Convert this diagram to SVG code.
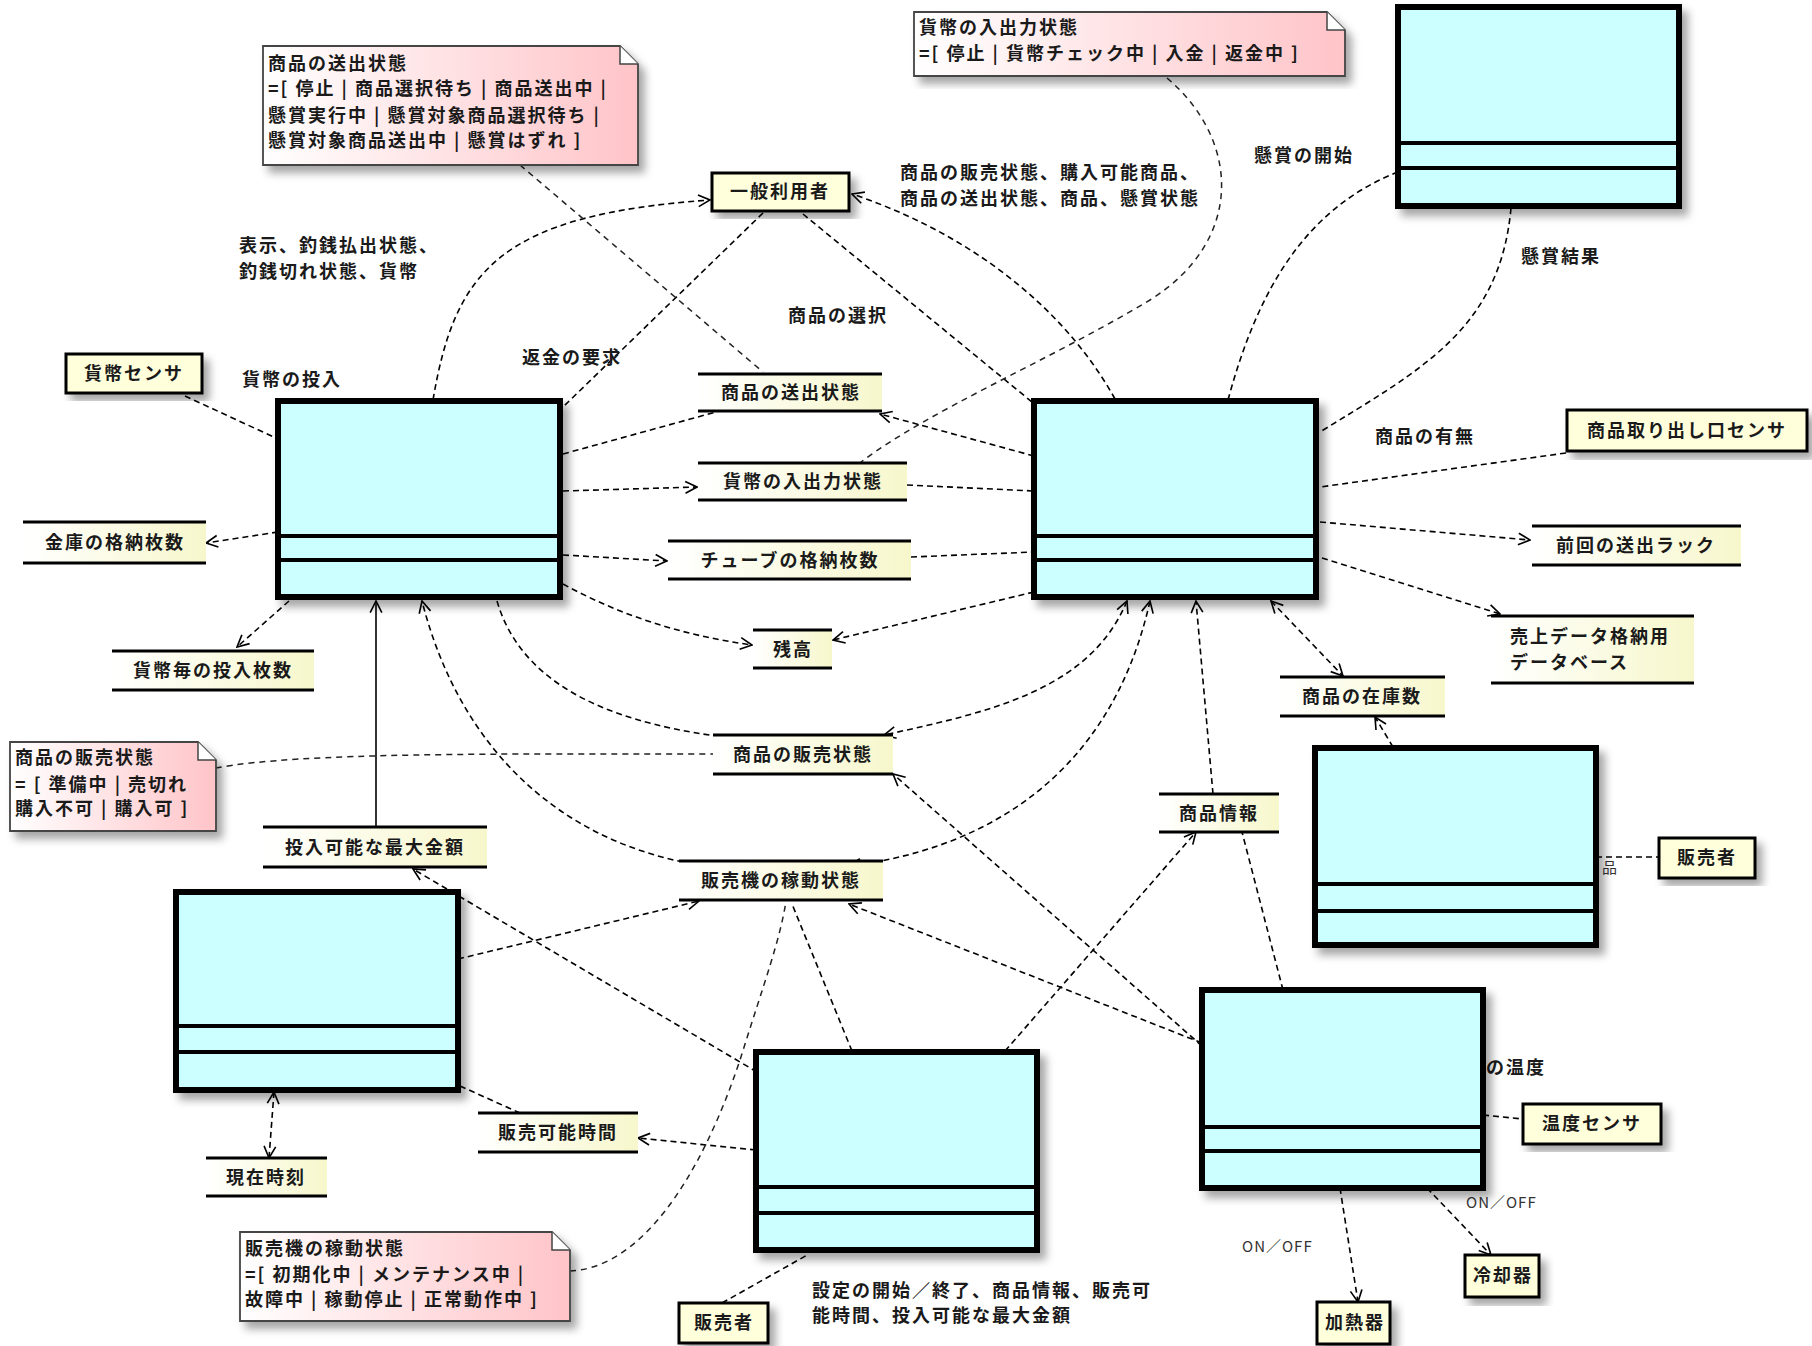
<svg xmlns="http://www.w3.org/2000/svg" width="1812" height="1346" viewBox="0 0 1812 1346">
<defs>
<style>
text{font-family:"Noto Sans CJK JP","Noto Sans",sans-serif;font-size:18px;font-weight:bold;fill:#1a1a1a;letter-spacing:2px}
.cls{fill:#ccffff;stroke:#000;stroke-width:6}
.cl{stroke:#000;stroke-width:4}
.act{fill:#ffffdc;stroke:#000;stroke-width:3}
.ds{fill:url(#gy)}
.dl{stroke:#000;stroke-width:3}
.note{fill:url(#gp);stroke:#444;stroke-width:1.8}
.fold{fill:#fff;stroke:#444;stroke-width:1.5}
.c{fill:none;stroke:#000;stroke-width:1.6;stroke-dasharray:6 4}
.s{fill:none;stroke:#000;stroke-width:1.6}
.na{fill:none;stroke:#222;stroke-width:1.5;stroke-dasharray:6 5}
.ae{marker-end:url(#ah)}
.as{marker-start:url(#ah)}
.m{text-anchor:middle}
.sm{font-size:15px;font-weight:normal;letter-spacing:1px;fill:#333}
</style>
<linearGradient id="gy" x1="0" y1="0" x2="1" y2="0"><stop offset="0" stop-color="#ffffff"/><stop offset="1" stop-color="#f7f7cc"/></linearGradient>
<linearGradient id="gp" x1="0" y1="0" x2="1" y2="0"><stop offset="0" stop-color="#ffffff"/><stop offset="1" stop-color="#ffc4c8"/></linearGradient>
<filter id="sh" x="-10%" y="-10%" width="130%" height="130%"><feDropShadow dx="6" dy="7" stdDeviation="4" flood-color="#000" flood-opacity="0.35"/></filter>
<marker id="ah" viewBox="0 0 12 12" refX="11" refY="6" markerWidth="14" markerHeight="14" markerUnits="userSpaceOnUse" orient="auto-start-reverse"><path d="M1,1 L11,6 L1,11" fill="none" stroke="#000" stroke-width="1.4"/></marker>
</defs>
<rect width="1812" height="1346" fill="#fff"/>

<g id="connectors">
<path class="c ae" d="M433,400 C455,270 500,215 710,200"/>
<path class="c" d="M763,213 L563,407"/>
<path class="c" d="M803,214 L1032,402"/>
<path class="c ae" d="M1115,399 C1060,300 960,230 852,194"/>
<path class="na" d="M520,165 L763,372"/>
<path class="na" d="M1167,78 C1240,140 1245,240 1150,300 C1050,360 930,410 861,462"/>
<path class="na" d="M216,768 C300,752 500,754 713,754"/>
<path class="na" d="M570,1271 C640,1268 700,1180 740,1060 C765,980 780,940 786,901"/>
<path class="c" d="M185,396 L278,439"/>
<path class="c ae" d="M278,532 L206,543"/>
<path class="c ae" d="M289,601 L237,647"/>
<path class="c" d="M563,454 L716,412"/>
<path class="c ae" d="M1034,456 L880,414"/>
<path class="c ae" d="M563,491 L697,487"/>
<path class="c" d="M907,485 L1034,491"/>
<path class="c ae" d="M563,555 L667,561"/>
<path class="c" d="M911,557 L1034,552"/>
<path class="c ae" d="M563,584 C620,615 680,635 752,645"/>
<path class="c ae" d="M1034,592 L833,640"/>
<path class="c" d="M497,601 C520,680 600,720 716,736"/>
<path class="c ae as" d="M1127,601 C1090,690 990,712 884,735"/>
<path class="c ae" d="M693,864 C560,840 460,750 422,601"/>
<path class="c ae as" d="M1150,601 C1110,780 980,850 849,866"/>
<path class="s ae" d="M376,827 L376,601"/>
<path class="c ae" d="M458,959 L699,901"/>
<path class="c ae" d="M757,1072 L413,869"/>
<path class="c ae" d="M1202,1046 L893,774"/>
<path class="c ae" d="M1202,1043 L849,904"/>
<path class="c" d="M852,1051 L792,904"/>
<path class="c ae" d="M1005,1051 L1196,832"/>
<path class="c ae" d="M1213,794 L1196,601"/>
<path class="c" d="M1283,990 L1242,832"/>
<path class="c ae as" d="M1271,601 L1343,676"/>
<path class="c ae" d="M1393,747 L1375,717"/>
<path class="c" d="M1596,857 L1659,857"/>
<path class="c ae" d="M1320,522 L1530,540"/>
<path class="c" d="M1566,453 L1320,487"/>
<path class="c ae" d="M1322,558 L1500,614"/>
<path class="c" d="M1228,400 C1255,300 1300,210 1398,172"/>
<path class="c" d="M1511,208 C1500,330 1420,370 1320,432"/>
<path class="c" d="M1483,1115 L1523,1119"/>
<path class="c ae" d="M1340,1188 L1358,1302"/>
<path class="c ae" d="M1427,1188 L1491,1255"/>
<path class="c ae as" d="M274,1092 L269,1158"/>
<path class="c" d="M460,1086 L520,1113"/>
<path class="c ae" d="M756,1150 L638,1138"/>
<path class="c" d="M722,1303 L809,1254"/>
</g>

<g id="labels">
<text x="900" y="179">商品の販売状態、購入可能商品、</text>
<text x="900" y="205">商品の送出状態、商品、懸賞状態</text>
<text x="239" y="252">表示、釣銭払出状態、</text>
<text x="239" y="278">釣銭切れ状態、貨幣</text>
<text x="1254" y="162">懸賞の開始</text>
<text x="1521" y="263">懸賞結果</text>
<text x="788" y="322">商品の選択</text>
<text x="522" y="364">返金の要求</text>
<text x="242" y="386">貨幣の投入</text>
<text x="1375" y="443">商品の有無</text>
<text x="1602" y="873" class="sm">品</text>
<text x="1486" y="1074">の温度</text>
<text x="1466" y="1208" class="sm">ON／OFF</text>
<text x="1242" y="1252" class="sm">ON／OFF</text>
<text x="812" y="1297">設定の開始／終了、商品情報、販売可</text>
<text x="812" y="1322">能時間、投入可能な最大金額</text>
</g>

<g id="classA" filter="url(#sh)"><rect class="cls" x="1398" y="7" width="281" height="199"/><line class="cl" x1="1398" y1="143" x2="1679" y2="143"/><line class="cl" x1="1398" y1="168" x2="1679" y2="168"/></g>
<g id="classB" filter="url(#sh)"><rect class="cls" x="278" y="401" width="282" height="196"/><line class="cl" x1="278" y1="536" x2="560" y2="536"/><line class="cl" x1="278" y1="560" x2="560" y2="560"/></g>
<g id="classC" filter="url(#sh)"><rect class="cls" x="1034" y="401" width="282" height="196"/><line class="cl" x1="1034" y1="536" x2="1316" y2="536"/><line class="cl" x1="1034" y1="560" x2="1316" y2="560"/></g>
<g id="classD" filter="url(#sh)"><rect class="cls" x="1315" y="748" width="281" height="197"/><line class="cl" x1="1315" y1="884" x2="1596" y2="884"/><line class="cl" x1="1315" y1="911" x2="1596" y2="911"/></g>
<g id="classE" filter="url(#sh)"><rect class="cls" x="176" y="892" width="282" height="198"/><line class="cl" x1="176" y1="1026" x2="458" y2="1026"/><line class="cl" x1="176" y1="1052" x2="458" y2="1052"/></g>
<g id="classF" filter="url(#sh)"><rect class="cls" x="756" y="1052" width="281" height="198"/><line class="cl" x1="756" y1="1187" x2="1037" y2="1187"/><line class="cl" x1="756" y1="1213" x2="1037" y2="1213"/></g>
<g id="classG" filter="url(#sh)"><rect class="cls" x="1202" y="990" width="281" height="198"/><line class="cl" x1="1202" y1="1127" x2="1483" y2="1127"/><line class="cl" x1="1202" y1="1151" x2="1483" y2="1151"/></g>

<g id="ippanriyousha"><rect class="act" x="712" y="173" width="137" height="38" filter="url(#sh)"/><text class="m" x="780" y="198">一般利用者</text></g>
<g id="kaheisensa"><rect class="act" x="66" y="354" width="136" height="39" filter="url(#sh)"/><text class="m" x="134" y="380">貨幣センサ</text></g>
<g id="toridashisensa"><rect class="act" x="1567" y="410" width="240" height="41" filter="url(#sh)"/><text class="m" x="1687" y="437">商品取り出し口センサ</text></g>
<g id="hanbaisha1"><rect class="act" x="1659" y="838" width="96" height="40" filter="url(#sh)"/><text class="m" x="1707" y="864">販売者</text></g>
<g id="ondosensa"><rect class="act" x="1523" y="1104" width="138" height="40" filter="url(#sh)"/><text class="m" x="1592" y="1130">温度センサ</text></g>
<g id="reikyakuki"><rect class="act" x="1465" y="1255" width="74" height="42" filter="url(#sh)"/><text class="m" x="1503" y="1282">冷却器</text></g>
<g id="kanetsuki"><rect class="act" x="1317" y="1302" width="73" height="42" filter="url(#sh)"/><text class="m" x="1355" y="1329">加熱器</text></g>
<g id="hanbaisha2"><rect class="act" x="679" y="1303" width="89" height="40" filter="url(#sh)"/><text class="m" x="724" y="1329">販売者</text></g>

<g id="ds1"><rect class="ds" x="698" y="374" width="184" height="37"/><line class="dl" x1="698" y1="374" x2="882" y2="374"/><line class="dl" x1="698" y1="411" x2="882" y2="411"/><text class="m" x="791" y="399">商品の送出状態</text></g>
<g id="ds2"><rect class="ds" x="698" y="463" width="209" height="37"/><line class="dl" x1="698" y1="463" x2="907" y2="463"/><line class="dl" x1="698" y1="500" x2="907" y2="500"/><text class="m" x="803" y="488">貨幣の入出力状態</text></g>
<g id="ds3"><rect class="ds" x="668" y="541" width="243" height="38"/><line class="dl" x1="668" y1="541" x2="911" y2="541"/><line class="dl" x1="668" y1="579" x2="911" y2="579"/><text class="m" x="790" y="567">チューブの格納枚数</text></g>
<g id="ds4"><rect class="ds" x="753" y="630" width="79" height="38"/><line class="dl" x1="753" y1="630" x2="832" y2="630"/><line class="dl" x1="753" y1="668" x2="832" y2="668"/><text class="m" x="793" y="656">残高</text></g>
<g id="ds5"><rect class="ds" x="23" y="522" width="183" height="41"/><line class="dl" x1="23" y1="522" x2="206" y2="522"/><line class="dl" x1="23" y1="563" x2="206" y2="563"/><text class="m" x="115" y="549">金庫の格納枚数</text></g>
<g id="ds6"><rect class="ds" x="112" y="651" width="202" height="39"/><line class="dl" x1="112" y1="651" x2="314" y2="651"/><line class="dl" x1="112" y1="690" x2="314" y2="690"/><text class="m" x="213" y="677">貨幣毎の投入枚数</text></g>
<g id="ds7"><rect class="ds" x="713" y="735" width="180" height="39"/><line class="dl" x1="713" y1="735" x2="893" y2="735"/><line class="dl" x1="713" y1="774" x2="893" y2="774"/><text class="m" x="803" y="761">商品の販売状態</text></g>
<g id="ds8"><rect class="ds" x="263" y="827" width="224" height="40"/><line class="dl" x1="263" y1="827" x2="487" y2="827"/><line class="dl" x1="263" y1="867" x2="487" y2="867"/><text class="m" x="375" y="854">投入可能な最大金額</text></g>
<g id="ds9"><rect class="ds" x="679" y="861" width="204" height="39"/><line class="dl" x1="679" y1="861" x2="883" y2="861"/><line class="dl" x1="679" y1="900" x2="883" y2="900"/><text class="m" x="781" y="887">販売機の稼動状態</text></g>
<g id="ds10"><rect class="ds" x="1159" y="794" width="120" height="38"/><line class="dl" x1="1159" y1="794" x2="1279" y2="794"/><line class="dl" x1="1159" y1="832" x2="1279" y2="832"/><text class="m" x="1219" y="820">商品情報</text></g>
<g id="ds11"><rect class="ds" x="1532" y="526" width="209" height="39"/><line class="dl" x1="1532" y1="526" x2="1741" y2="526"/><line class="dl" x1="1532" y1="565" x2="1741" y2="565"/><text class="m" x="1636" y="552">前回の送出ラック</text></g>
<g id="ds12"><rect class="ds" x="1491" y="616" width="203" height="67"/><line class="dl" x1="1491" y1="616" x2="1694" y2="616"/><line class="dl" x1="1491" y1="683" x2="1694" y2="683"/><text x="1510" y="643">売上データ格納用</text><text x="1510" y="669">データベース</text></g>
<g id="ds13"><rect class="ds" x="1280" y="677" width="165" height="39"/><line class="dl" x1="1280" y1="677" x2="1445" y2="677"/><line class="dl" x1="1280" y1="716" x2="1445" y2="716"/><text class="m" x="1362" y="703">商品の在庫数</text></g>
<g id="ds14"><rect class="ds" x="478" y="1113" width="160" height="39"/><line class="dl" x1="478" y1="1113" x2="638" y2="1113"/><line class="dl" x1="478" y1="1152" x2="638" y2="1152"/><text class="m" x="558" y="1139">販売可能時間</text></g>
<g id="ds15"><rect class="ds" x="206" y="1158" width="121" height="38"/><line class="dl" x1="206" y1="1158" x2="327" y2="1158"/><line class="dl" x1="206" y1="1196" x2="327" y2="1196"/><text class="m" x="266" y="1184">現在時刻</text></g>

<g id="note1"><path class="note" d="M263,46 H620 L638,64 V165 H263 Z" filter="url(#sh)"/><path class="fold" d="M620,46 V64 H638"/>
<text x="268" y="70">商品の送出状態</text><text x="268" y="95">=[ 停止 | 商品選択待ち | 商品送出中 |</text><text x="268" y="122">懸賞実行中 | 懸賞対象商品選択待ち |</text><text x="268" y="147">懸賞対象商品送出中 | 懸賞はずれ ]</text></g>
<g id="note2"><path class="note" d="M914,12 H1327 L1345,30 V76 H914 Z" filter="url(#sh)"/><path class="fold" d="M1327,12 V30 H1345"/>
<text x="919" y="34">貨幣の入出力状態</text><text x="919" y="60">=[ 停止 | 貨幣チェック中 | 入金 | 返金中 ]</text></g>
<g id="note3"><path class="note" d="M10,742 H198 L216,760 V831 H10 Z" filter="url(#sh)"/><path class="fold" d="M198,742 V760 H216"/>
<text x="15" y="764">商品の販売状態</text><text x="15" y="791">= [ 準備中 | 売切れ</text><text x="15" y="815">購入不可 | 購入可 ]</text></g>
<g id="note4"><path class="note" d="M240,1232 H552 L570,1250 V1321 H240 Z" filter="url(#sh)"/><path class="fold" d="M552,1232 V1250 H570"/>
<text x="245" y="1255">販売機の稼動状態</text><text x="245" y="1281">=[ 初期化中 | メンテナンス中 |</text><text x="245" y="1306">故障中 | 稼動停止 | 正常動作中 ]</text></g>
</svg>
